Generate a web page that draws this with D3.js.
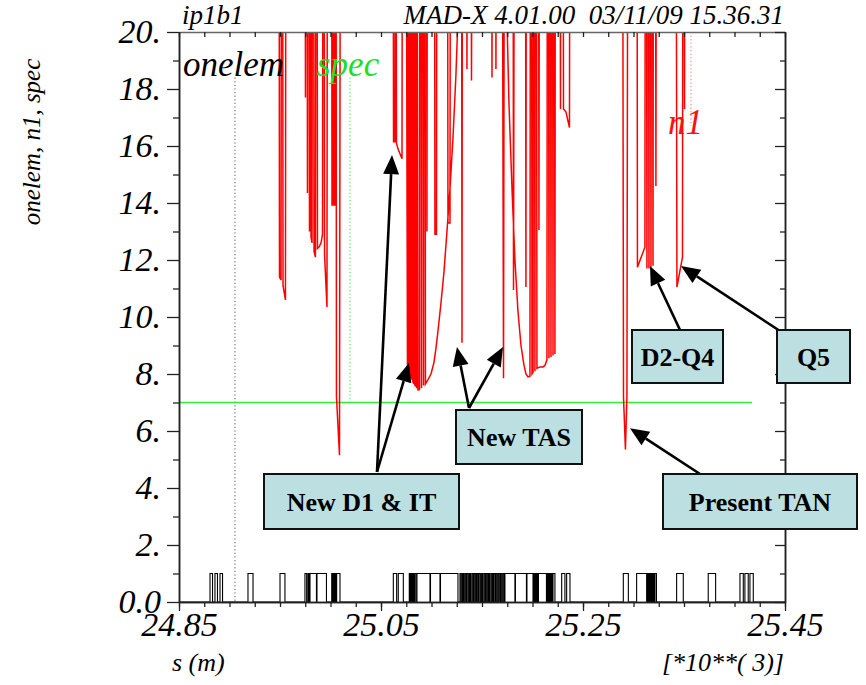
<!DOCTYPE html>
<html>
<head>
<meta charset="utf-8">
<script src="https://cdn.jsdelivr.net/npm/d3@7"></script>
<style>
  html, body { margin: 0; padding: 0; background: #fff; }
  svg { display: block; }
  text { font-family: "Liberation Serif", "Times New Roman", serif; }
</style>
</head>
<body>
<svg id="chart" width="866" height="685"></svg>
<script>
// s in km (axis multiplier 10**3), n1 in sigma; 30 means off-scale (above the frame)
const n1 = [
  [24.9490,30],[24.9495,11.4],[24.9510,11.3],[24.9515,30],[24.9525,30],[24.9530,11.1],[24.9554,10.6],[24.9559,30],
  [24.9747,30],[24.9752,17.7],[24.9757,30],[24.9767,30],[24.9772,14.35],[24.9777,30],
  [24.9787,30],[24.9792,13.0],[24.9797,30],[24.9802,30],[24.9807,12.8],[24.9817,12.6],[24.9822,30],
  [24.9832,30],[24.9837,12.3],[24.9851,12.1],[24.9856,30],[24.9866,30],[24.9871,12.4],[24.9886,12.45],
  [24.9906,12.6],[24.9921,12.9],[24.9926,30],[24.9936,30],[24.9941,12.2],[24.9965,10.35],[24.9970,30],
  [25.0010,30],[25.0015,13.9],[25.0020,30],[25.0025,30],[25.0030,13.9],[25.0035,30],[25.0040,30],[25.0045,13.9],[25.0050,30],
  null,
  [25.0054,30],[25.0059,7.2],[25.0089,5.15],[25.0099,30],
  [25.0619,30],[25.0624,16.15],[25.0638,16.15],[25.0641,30],[25.0648,30],[25.0653,16.1],[25.0668,15.9],[25.0708,15.55],[25.0713,30],
  [25.0747,30],[25.0762,8.1],[25.0767,30],[25.0772,30],[25.0775,8.0],[25.0777,30],[25.0782,7.95],[25.0787,30],
  [25.0792,30],[25.0795,7.85],[25.0797,30],[25.0802,7.8],[25.0807,30],[25.0812,30],[25.0815,7.7],[25.0817,30],
  [25.0822,7.65],[25.0827,30],[25.0831,30],[25.0834,7.6],[25.0836,30],[25.0841,7.55],[25.0846,30],[25.0851,30],
  [25.0854,7.5],[25.0856,30],[25.0866,7.44],[25.0881,7.45],
  [25.0886,30],[25.0896,30],[25.0901,7.5],[25.0906,30],[25.0916,30],[25.0921,7.6],[25.0926,30],[25.0935,30],[25.0940,7.65],
  [25.0965,7.8],[25.0995,8.0],[25.1024,8.4],[25.1044,8.9],[25.1064,9.5],[25.1094,10.5],[25.1124,11.6],[25.1153,13.0],
  [25.1183,14.5],[25.1213,16.3],[25.1242,18.5],[25.1262,20.5],
  null,
  [25.0950,30],[25.0955,13.0],[25.0960,30],[25.1029,30],[25.1034,12.9],[25.1049,12.9],[25.1054,30],
  [25.1158,30],[25.1163,13.3],[25.1183,13.3],[25.1188,30],
  [25.1297,30],[25.1302,9.1],[25.1307,30],
  [25.1346,30],[25.1351,18.7],[25.1356,30],[25.1391,30],[25.1396,18.3],[25.1406,30],
  [25.1594,30],[25.1599,18.4],[25.1604,30],[25.1633,30],[25.1638,18.7],[25.1643,30],
  [25.1698,30],[25.1713,7.85],[25.1723,30],
  [25.1737,30],[25.1747,20.5],[25.1767,17.5],[25.1797,14.5],[25.1826,12.0],[25.1856,10.2],[25.1886,9.0],[25.1916,8.3],
  [25.1935,8.0],[25.1955,7.9],[25.1975,7.92],[25.1980,30],[25.1990,30],[25.1995,8.0],[25.2005,8.05],[25.2010,30],
  [25.2019,30],[25.2024,8.1],[25.2029,30],[25.2039,30],[25.2044,8.2],[25.2074,8.25],[25.2104,8.25],[25.2123,8.3],
  [25.2143,8.5],[25.2148,30],[25.2158,30],[25.2163,8.55],[25.2168,30],[25.2178,30],[25.2183,8.6],[25.2188,30],
  [25.2198,30],[25.2203,8.65],[25.2208,30],[25.2217,30],[25.2222,8.7],[25.2227,30],
  null,
  [25.1807,30],[25.1812,10.95],[25.1822,30],[25.1930,30],[25.1935,11.05],[25.1940,30],[25.2059,30],[25.2064,13.05],[25.2069,30],
  null,
  [25.2272,30],[25.2277,17.3],[25.2282,30],[25.2302,30],[25.2307,17.3],[25.2331,17.2],[25.2366,16.65],[25.2371,30],
  [25.2891,30],[25.2901,7.2],[25.2920,5.35],[25.2935,7.2],[25.2945,30],
  [25.3034,30],[25.3039,11.75],[25.3113,12.45],[25.3118,30],[25.3128,30],[25.3133,11.7],[25.3138,30],
  [25.3148,30],[25.3153,11.7],[25.3158,30],[25.3168,30],[25.3173,11.75],[25.3178,30],[25.3188,30],[25.3193,11.8],[25.3198,30],
  [25.3217,30],[25.3222,14.6],[25.3227,30],
  [25.3420,30],[25.3430,11.05],[25.3485,12.1],[25.3490,30],[25.3500,30],[25.3505,17.3],[25.3510,30]
];

// element extents [start, end] along s (km) for the onelem marker
const elements = [
  [24.8807,24.8832],[24.8856,24.8881],[24.8906,24.8931],
  [24.9183,24.9233],[24.9500,24.9549],
  [24.9747,24.9764],[24.9777,24.9787],[24.9797,24.9861],[24.9866,24.9960],
  [25.0012,25.0022],[25.0030,25.0040],[25.0047,25.0057],[25.0061,25.0094],
  [25.0622,25.0655],[25.0671,25.0721],
  [25.0780,25.0790],[25.0800,25.0810],[25.0820,25.0829],[25.0839,25.0853],
  [25.0856,25.0985],[25.0990,25.1084],[25.1089,25.1262],
  [25.1282,25.1294],[25.1306,25.1317],[25.1329,25.1341],[25.1352,25.1365],[25.1377,25.1388],[25.1401,25.1413],
  [25.1424,25.1437],[25.1448,25.1460],[25.1471,25.1484],[25.1496,25.1507],[25.1520,25.1532],[25.1543,25.1556],
  [25.1567,25.1578],[25.1591,25.1603],[25.1614,25.1627],[25.1638,25.1650],[25.1662,25.1675],[25.1686,25.1698],[25.1710,25.1722],
  [25.1727,25.1826],[25.1831,25.1940],[25.1945,25.2005],
  [25.2010,25.2019],[25.2029,25.2039],[25.2044,25.2054],[25.2059,25.2138],
  [25.2143,25.2153],[25.2163,25.2173],[25.2183,25.2193],[25.2203,25.2222],
  [25.2289,25.2321],[25.2338,25.2371],
  [25.2899,25.2949],[25.3031,25.3130],
  [25.3133,25.3143],[25.3153,25.3163],[25.3173,25.3183],[25.3193,25.3203],[25.3212,25.3227],
  [25.3427,25.3493],[25.3740,25.3813],
  [25.4054,25.4087],[25.4103,25.4136],[25.4153,25.4186]
];

// aperture specification level
const specLevel = 7;
const specRange = [24.85, 25.4173];

// axis ticks
const xTickValues = [24.85, 25.05, 25.25, 25.45];
const xTickLabels = ["24.85", "25.05", "25.25", "25.45"];
const yTickValues = [0, 2, 4, 6, 8, 10, 12, 14, 16, 18, 20];
const yTickLabels = ["0.0", "2.", "4.", "6.", "8.", "10.", "12.", "14.", "16.", "18.", "20."];

// annotation texts and the (s, n1) points their arrows mark
const noteTexts = ["New D1 & IT", "New TAS", "D2-Q4", "Q5", "Present TAN"];
const noteTargets = [
  [[25.0609, 15.68], [25.0777, 8.39]],
  [[25.1252, 8.95], [25.1708, 8.95]],
  [[25.3163, 11.79]],
  [[25.3470, 11.79]],
  [[25.2965, 6.1]]
];

const svg = d3.select("#chart");
const L = 179, R = 785, T = 32, B = 602;
const x = d3.scaleLinear().domain([24.85, 25.45]).range([L, R]);
const y = d3.scaleLinear().domain([0, 20]).range([B, T]);

svg.append("defs").append("clipPath").attr("id", "plotclip")
  .append("rect").attr("x", L).attr("y", T).attr("width", R - L).attr("height", B - T);

const plot = svg.append("g").attr("clip-path", "url(#plotclip)");

// label pointer lines (dotted)
plot.append("line").attr("x1", x(24.9054)).attr("x2", x(24.9054)).attr("y1", y(18.4)).attr("y2", y(0))
  .attr("stroke", "#555").attr("stroke-width", 1).attr("stroke-dasharray", "1.2,2.4");
plot.append("line").attr("x1", x(25.0193)).attr("x2", x(25.0193)).attr("y1", y(18.4)).attr("y2", y(specLevel))
  .attr("stroke", "#33dd33").attr("stroke-width", 1).attr("stroke-dasharray", "1.2,2.4");
plot.append("line").attr("x1", x(25.3569)).attr("x2", x(25.3569)).attr("y1", y(20)).attr("y2", y(16.7))
  .attr("stroke", "#ff6666").attr("stroke-width", 1).attr("stroke-dasharray", "1.2,2.4");

// spec line
plot.append("line").attr("x1", x(specRange[0])).attr("x2", x(specRange[1]))
  .attr("y1", y(specLevel)).attr("y2", y(specLevel))
  .attr("stroke", "#33ee33").attr("stroke-width", 1.5);

// onelem step trace
const onelemPts = [[24.85, 0]];
elements.forEach(([a, b]) => { onelemPts.push([a, 0], [a, 1], [b, 1], [b, 0]); });
onelemPts.push([25.45, 0]);
plot.append("path").datum(onelemPts)
  .attr("fill", "none").attr("stroke", "#000").attr("stroke-width", 1.1)
  .attr("d", d3.line().x(d => x(d[0])).y(d => y(d[1])));

// n1 trace
plot.append("path").datum(n1)
  .attr("fill", "none").attr("stroke", "#ff0000").attr("stroke-width", 1.5)
  .attr("stroke-linejoin", "miter")
  .attr("d", d3.line().defined(d => d !== null).x(d => x(d[0])).y(d => y(d[1])));

// axes
const minorX = d3.range(0, 25).map(i => 24.85 + i * 0.025);
const minorY = d3.range(1, 20, 2);
const axisColor = "#222";

function styleAxis(g) {
  g.select(".domain").attr("stroke", axisColor).attr("stroke-width", 1.5);
  g.selectAll(".tick line").attr("stroke", axisColor).attr("stroke-width", 1.3);
}

// bottom
svg.append("g").attr("transform", `translate(0,${B})`)
  .call(d3.axisBottom(x).tickValues(minorX).tickSize(5).tickFormat("").tickSizeOuter(0)).call(styleAxis);
svg.append("g").attr("transform", `translate(0,${B})`)
  .call(d3.axisBottom(x).tickValues(xTickValues).tickSize(9).tickSizeOuter(0)
    .tickFormat((d, i) => xTickLabels[i]))
  .call(styleAxis)
  .call(g => g.selectAll(".tick text").attr("font-size", 34).attr("font-style", "italic")
    .attr("fill", "#000").attr("font-family", "Liberation Serif, serif").attr("dy", "0.72em").attr("y", 10));
// top
svg.append("g").attr("transform", `translate(0,${T})`)
  .call(d3.axisBottom(x).tickValues(minorX).tickSize(5).tickFormat("").tickSizeOuter(0)).call(styleAxis)
  .call(g => g.select(".domain").attr("stroke", "#666"));
// left
svg.append("g").attr("transform", `translate(${L},0)`)
  .call(d3.axisLeft(y).tickValues(minorY).tickSize(6).tickFormat("").tickSizeOuter(0)).call(styleAxis);
svg.append("g").attr("transform", `translate(${L},0)`)
  .call(d3.axisLeft(y).tickValues(yTickValues).tickSize(12).tickSizeOuter(0)
    .tickFormat((d, i) => yTickLabels[i]))
  .call(styleAxis)
  .call(g => g.selectAll(".tick text").attr("font-size", 34).attr("font-style", "italic")
    .attr("fill", "#000").attr("font-family", "Liberation Serif, serif").attr("x", -18));
// right
svg.append("g").attr("transform", `translate(${R},0)`)
  .call(d3.axisRight(y).tickValues(minorY).tickSize(-5).tickFormat("").tickSizeOuter(0)).call(styleAxis);
svg.append("g").attr("transform", `translate(${R},0)`)
  .call(d3.axisRight(y).tickValues(yTickValues).tickSize(-10).tickFormat("").tickSizeOuter(0)).call(styleAxis);

// header and axis titles
const it = (sel) => sel.attr("font-style", "italic").attr("font-family", "Liberation Serif, serif");
svg.append("text").attr("x", 182).attr("y", 24).attr("font-size", 27).text("ip1b1").call(it);
svg.append("text").attr("x", 784).attr("y", 24).attr("font-size", 27).attr("text-anchor", "end")
  .attr("xml:space", "preserve").text("MAD-X 4.01.00  03/11/09 15.36.31").call(it);
svg.append("text").attr("x", 183).attr("y", 76).attr("font-size", 35).text("onelem").call(it);
svg.append("text").attr("x", 317).attr("y", 76).attr("font-size", 35).attr("fill", "#22dd22").text("spec").call(it);
svg.append("text").attr("x", 668).attr("y", 134).attr("font-size", 35).attr("fill", "#ff1010").text("n1").call(it);
svg.append("text").attr("transform", "translate(40,142) rotate(-90)").attr("text-anchor", "middle")
  .attr("font-size", 25).text("onelem, n1, spec").call(it);
svg.append("text").attr("x", 172).attr("y", 671).attr("font-size", 26).text("s (m)").call(it);
svg.append("text").attr("x", 784).attr("y", 671).attr("font-size", 26).attr("text-anchor", "end")
  .attr("xml:space", "preserve").text("[*10**( 3)]").call(it);

// annotation boxes with arrows
const noteBoxes = [
  { x: 264, y: 474, w: 195, h: 55, tail: [377, 472] },
  { x: 456, y: 410, w: 126, h: 54, tail: [469, 408] },
  { x: 632, y: 330, w: 91, h: 53, tail: [680, 330] },
  { x: 777, y: 330, w: 73, h: 53, tail: [780, 331] },
  { x: 663, y: 474, w: 194, h: 55, tail: [700, 474] }
];
const notes = svg.append("g");
noteBoxes.forEach((b, i) => {
  noteTargets[i].forEach(([s, v]) => {
    const tx = x(s), ty = y(v);
    const [sx, sy] = b.tail;
    const ang = Math.atan2(ty - sy, tx - sx);
    const headL = 19, headW = 8;
    const bx = tx - headL * Math.cos(ang), by = ty - headL * Math.sin(ang);
    notes.append("line").attr("x1", sx).attr("y1", sy).attr("x2", bx).attr("y2", by)
      .attr("stroke", "#000").attr("stroke-width", 2.6);
    const px = -Math.sin(ang) * headW, py = Math.cos(ang) * headW;
    notes.append("polygon")
      .attr("points", `${tx},${ty} ${bx + px},${by + py} ${bx - px},${by - py}`)
      .attr("fill", "#000");
  });
});
noteBoxes.forEach((b, i) => {
  notes.append("rect").attr("x", b.x).attr("y", b.y).attr("width", b.w).attr("height", b.h)
    .attr("fill", "#bcdfe2").attr("stroke", "#111").attr("stroke-width", 2);
  notes.append("text").attr("x", b.x + b.w / 2).attr("y", b.y + b.h / 2 + 9)
    .attr("text-anchor", "middle").attr("font-size", 26).attr("font-weight", "bold")
    .attr("font-family", "Liberation Serif, serif").text(noteTexts[i]);
});
</script>
</body>
</html>
